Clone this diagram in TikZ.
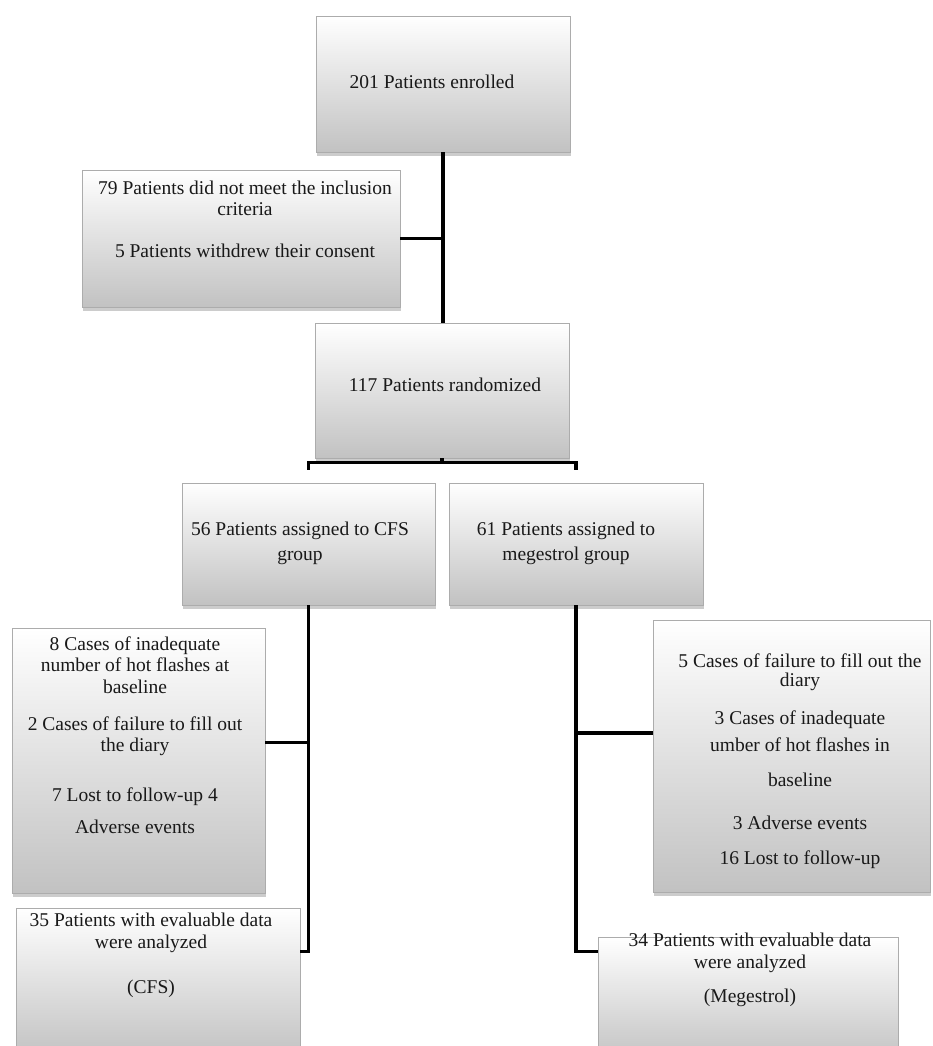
\documentclass[tikz,border=0pt]{standalone}
\usepackage{fontspec}
\setmainfont{Liberation Serif}
\usetikzlibrary{shadows}

\begin{document}
\begin{tikzpicture}[x=1pt, y=-1pt,
    box/.style={rectangle, draw=gray!65, line width=0.9pt, inner sep=0pt,
      top color=white, middle color=black!4, bottom color=black!24,
      drop shadow={opacity=0.4, shadow xshift=1pt, shadow yshift=-3.5pt}},
    txt/.style={align=center, inner sep=0pt, text=black!90,
      font=\fontsize{19.5}{21.5}\selectfont},
    link/.style={line width=3.4pt}]
      \useasboundingbox (0,0) rectangle (933,1046);
      \node[box, minimum width=254pt, minimum height=136pt] (enroll) at (443, 84) {};
      \node[box, minimum width=318pt, minimum height=137pt] (excl) at (241, 238.5) {};
      \node[box, minimum width=254pt, minimum height=135pt] (rand) at (442, 390.5) {};
      \node[box, minimum width=253pt, minimum height=122pt] (cfs) at (308.5, 544) {};
      \node[box, minimum width=254pt, minimum height=122pt] (meg) at (576, 544) {};
      \node[box, minimum width=253pt, minimum height=265pt] (cfsout) at (138.5, 760.5) {};
      \node[box, minimum width=277pt, minimum height=272pt] (megout) at (791.5, 756) {};
      \node[box, minimum width=284pt, minimum height=150pt] (cfsfin) at (158, 983) {};
      \node[box, minimum width=300pt, minimum height=125pt] (megfin) at (748, 999.5) {};
      \node[txt] (enrollt) at (432, 82) {201 Patients enrolled};
      \node[txt] (exclt) at (245, 219.5) {79 Patients did not meet the inclusion\\ criteria\\[20.5pt] 5 Patients withdrew their consent};
      \node[txt] (randt) at (445, 385) {117 Patients randomized};
      \node[txt] (cfst) at (300, 543.5) {56 Patients assigned to CFS\\[3.5pt] group};
      \node[txt] (megt) at (566, 543.5) {61 Patients assigned to\\[3.5pt] megestrol group};
      \node[txt] (cfsoutt) at (135, 735) {8 Cases of inadequate\\ number of hot flashes at\\ baseline\\[15.5pt] 2 Cases of failure to fill out\\ the diary\\[28.5pt] 7 Lost to follow-up 4\\[10.5pt] Adverse events};
      \node[txt] (megoutt) at (800, 761.5) {5 Cases of failure to fill out the\\[-2.5pt] diary\\[16.5pt] 3 Cases of inadequate\\[5.5pt] umber of hot flashes in\\[13.5pt] baseline\\[21.5pt] 3 Adverse events\\[13.5pt] 16 Lost to follow-up};
      \node[txt] (cfsfint) at (151, 955.5) {35 Patients with evaluable data\\ were analyzed\\[23.5pt] (CFS)};
      \node[txt] (megfint) at (750, 970) {34 Patients with evaluable data\\ were analyzed\\[12.5pt] (Megestrol)};
      \coordinate (split) at ([yshift=20pt]cfs.north -| rand.south);
      \coordinate (cfsjoin) at ([yshift=18pt]cfsout.east);
      \coordinate (megjoin) at ([yshift=23pt]megout.west);
      \draw[link] (enroll.south) -- (enroll.south |- rand.north);
      \draw[link] (excl.east) -- (excl.east -| enroll.south);
      \draw[link] (rand.south) -- (split);
      \draw[link] ([yshift=13pt]cfs.north) -- ([yshift=20pt]cfs.north) -- ([yshift=20pt]meg.north) -- ([yshift=13pt]meg.north);
      \draw[link] (cfs.south) |- ([yshift=-44pt]cfsfin.north east);
      \draw[link] (cfsjoin) -- (cfsjoin -| cfs.south);
      \draw[link] (meg.south) |- ([yshift=-15pt]megfin.north west);
      \draw[link] (megjoin) -- (megjoin -| meg.south);
    \end{tikzpicture}
\end{document}
